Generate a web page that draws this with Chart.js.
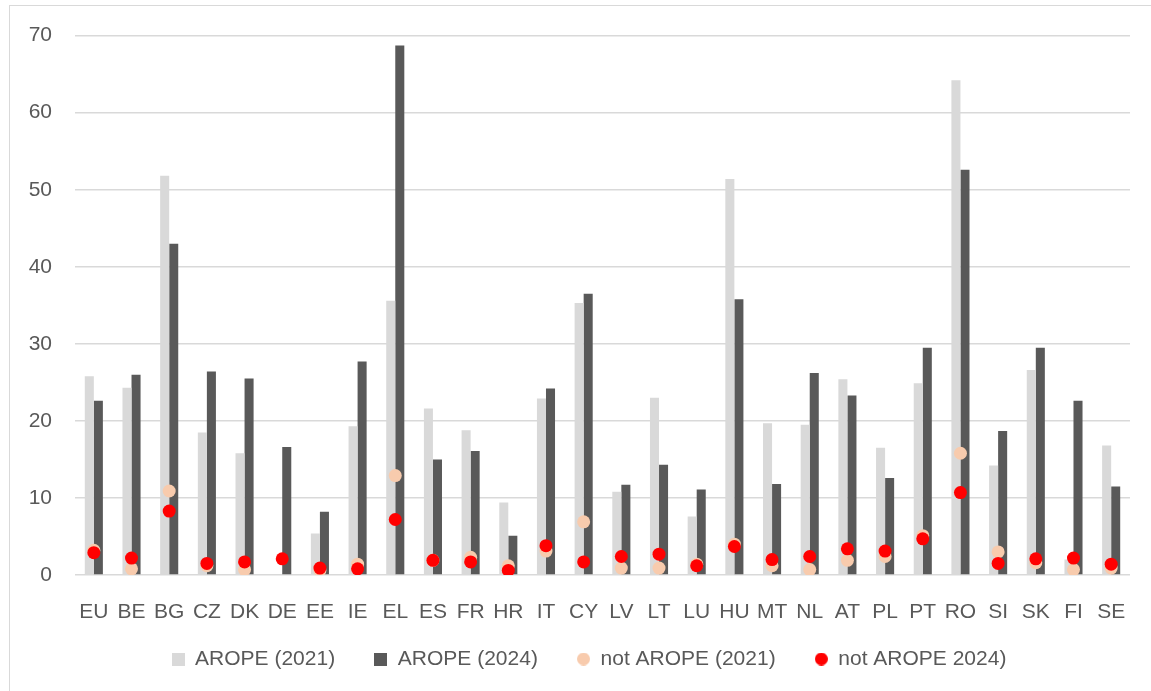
<!DOCTYPE html>
<html>
<head>
<meta charset="utf-8">
<script src="https://cdn.jsdelivr.net/npm/chart.js@4.4.1/dist/chart.umd.min.js"></script>
<style>
  body { margin: 0; background: #fff; overflow: hidden; }
  #frame { position: absolute; left: 9px; top: 5px; width: 1200px; height: 750px; border: 1.5px solid #d9d9d9; }
  #wrap { position: absolute; left: 0; top: 0; width: 1151px; height: 691px; }
</style>
</head>
<body>
<div id="frame"></div>
<div id="wrap"><canvas id="myChart"></canvas></div>
<script>
// 국가 목록
const labels = ['EU','BE','BG','CZ','DK','DE','EE','IE','EL','ES','FR','HR','IT','CY','LV','LT','LU','HU','MT','NL','AT','PL','PT','RO','SI','SK','FI','SE'];

const arope2021 = [25.8, 24.3, 51.8, 18.5, 15.8, null, 5.4, 19.3, 35.6, 21.6, 18.8, 9.4, 22.9, 35.3, 10.8, 23.0, 7.6, 51.4, 19.7, 19.5, 25.4, 16.5, 24.9, 64.2, 14.2, 26.6, 2.0, 16.8];
const arope2024 = [22.6, 26.0, 43.0, 26.4, 25.5, 16.6, 8.2, 27.7, 68.7, 15.0, 16.1, 5.1, 24.2, 36.5, 11.7, 14.3, 11.1, 35.8, 11.8, 26.2, 23.3, 12.6, 29.5, 52.6, 18.7, 29.5, 22.6, 11.5];
const notArope2021 = [3.2, 0.8, 10.9, 1.2, 0.7, null, 0.6, 1.4, 12.9, 1.9, 2.3, 1.2, 3.1, 6.9, 0.9, 0.9, 1.4, 4.0, 1.2, 0.7, 1.9, 2.4, 5.1, 15.8, 3.0, 1.6, 0.7, 0.9];
const notArope2024 = [2.9, 2.2, 8.3, 1.5, 1.7, 2.1, 0.9, 0.8, 7.2, 1.9, 1.7, 0.6, 3.8, 1.7, 2.4, 2.7, 1.2, 3.7, 2.0, 2.4, 3.4, 3.1, 4.7, 10.7, 1.5, 2.1, 2.2, 1.4];

const yTicks = [0, 10, 20, 30, 40, 50, 60, 70];

const LIGHT = '#d9d9d9';
const DARK = '#595959';
const PEACH = '#f8cbad';
const RED = '#ff0000';

// 범례 마커
function marker(color, round) {
    const c = document.createElement('canvas');
    c.width = 13; c.height = 13;
    const g = c.getContext('2d');
    g.fillStyle = color;
    if (round) {
        g.beginPath();
        g.arc(6.5, 6.5, 6.5, 0, Math.PI * 2);
        g.fill();
    } else {
        g.fillRect(0, 0, 13, 13);
    }
    return c;
}
const markers = [marker(LIGHT, false), marker(DARK, false), marker(PEACH, true), marker(RED, true)];

// 범례 위치를 조금 오른쪽으로
const legendShift = {
    id: 'legendShift',
    afterLayout(chart) {
        chart.legend.left += 24;
        chart.legend.right += 24;
    }
};

Chart.defaults.font.family = '"Liberation Sans", Arial, sans-serif';
Chart.defaults.color = '#595959';

const ctx = document.getElementById('myChart').getContext('2d');
const myChart = new Chart(ctx, {
    type: 'bar',
    data: {
        labels: labels,
        datasets: [
            {
                label: 'AROPE (2021)',
                data: arope2021,
                backgroundColor: LIGHT,
                categoryPercentage: 0.48,
                barPercentage: 1.0,
                order: 2
            },
            {
                label: 'AROPE (2024)',
                data: arope2024,
                backgroundColor: DARK,
                categoryPercentage: 0.48,
                barPercentage: 1.0,
                order: 3
            },
            {
                type: 'line',
                label: 'not AROPE (2021)',
                data: notArope2021,
                showLine: false,
                pointRadius: 6.5,
                pointBorderWidth: 0,
                pointBackgroundColor: PEACH,
                backgroundColor: PEACH,
                borderColor: PEACH,
                order: 1
            },
            {
                type: 'line',
                label: 'not AROPE 2024)',
                data: notArope2024,
                showLine: false,
                pointRadius: 6.5,
                pointBorderWidth: 0,
                pointBackgroundColor: RED,
                backgroundColor: RED,
                borderColor: RED,
                order: 0
            }
        ]
    },
    plugins: [legendShift],
    options: {
        responsive: true,
        maintainAspectRatio: false,
        animation: false,
        layout: {
            padding: { top: 34, left: 0, right: 21, bottom: 11.5 }
        },
        plugins: {
            tooltip: { enabled: false },
            legend: {
                position: 'bottom',
                labels: {
                    usePointStyle: true,
                    boxWidth: 13,
                    boxHeight: 13,
                    padding: 10,
                    font: { size: 21 },
                    color: '#595959',
                    sort: (a, b) => a.datasetIndex - b.datasetIndex,
                    generateLabels: function(chart) {
                        const items = Chart.defaults.plugins.legend.labels.generateLabels(chart);
                        items.forEach(it => {
                            it.pointStyle = markers[it.datasetIndex];
                            // 항목 사이 간격
                            if (it.datasetIndex < 3) it.text = it.text + '     ';
                        });
                        return items;
                    }
                }
            }
        },
        scales: {
            x: {
                grid: { display: false },
                border: { display: false },
                ticks: { font: { size: 21 }, padding: 17, maxRotation: 0, autoSkip: false },
                afterFit: function(scale) { scale.height = 63.5; }
            },
            y: {
                min: 0,
                max: 70,
                afterBuildTicks: function(scale) { scale.ticks = yTicks.map(v => ({ value: v })); },
                grid: { color: LIGHT, lineWidth: 1.5, drawTicks: false },
                border: { display: false },
                ticks: { font: { size: 21 }, padding: 23 },
                afterFit: function(scale) { scale.width = 75; }
            }
        }
    }
});
</script>
</body>
</html>
